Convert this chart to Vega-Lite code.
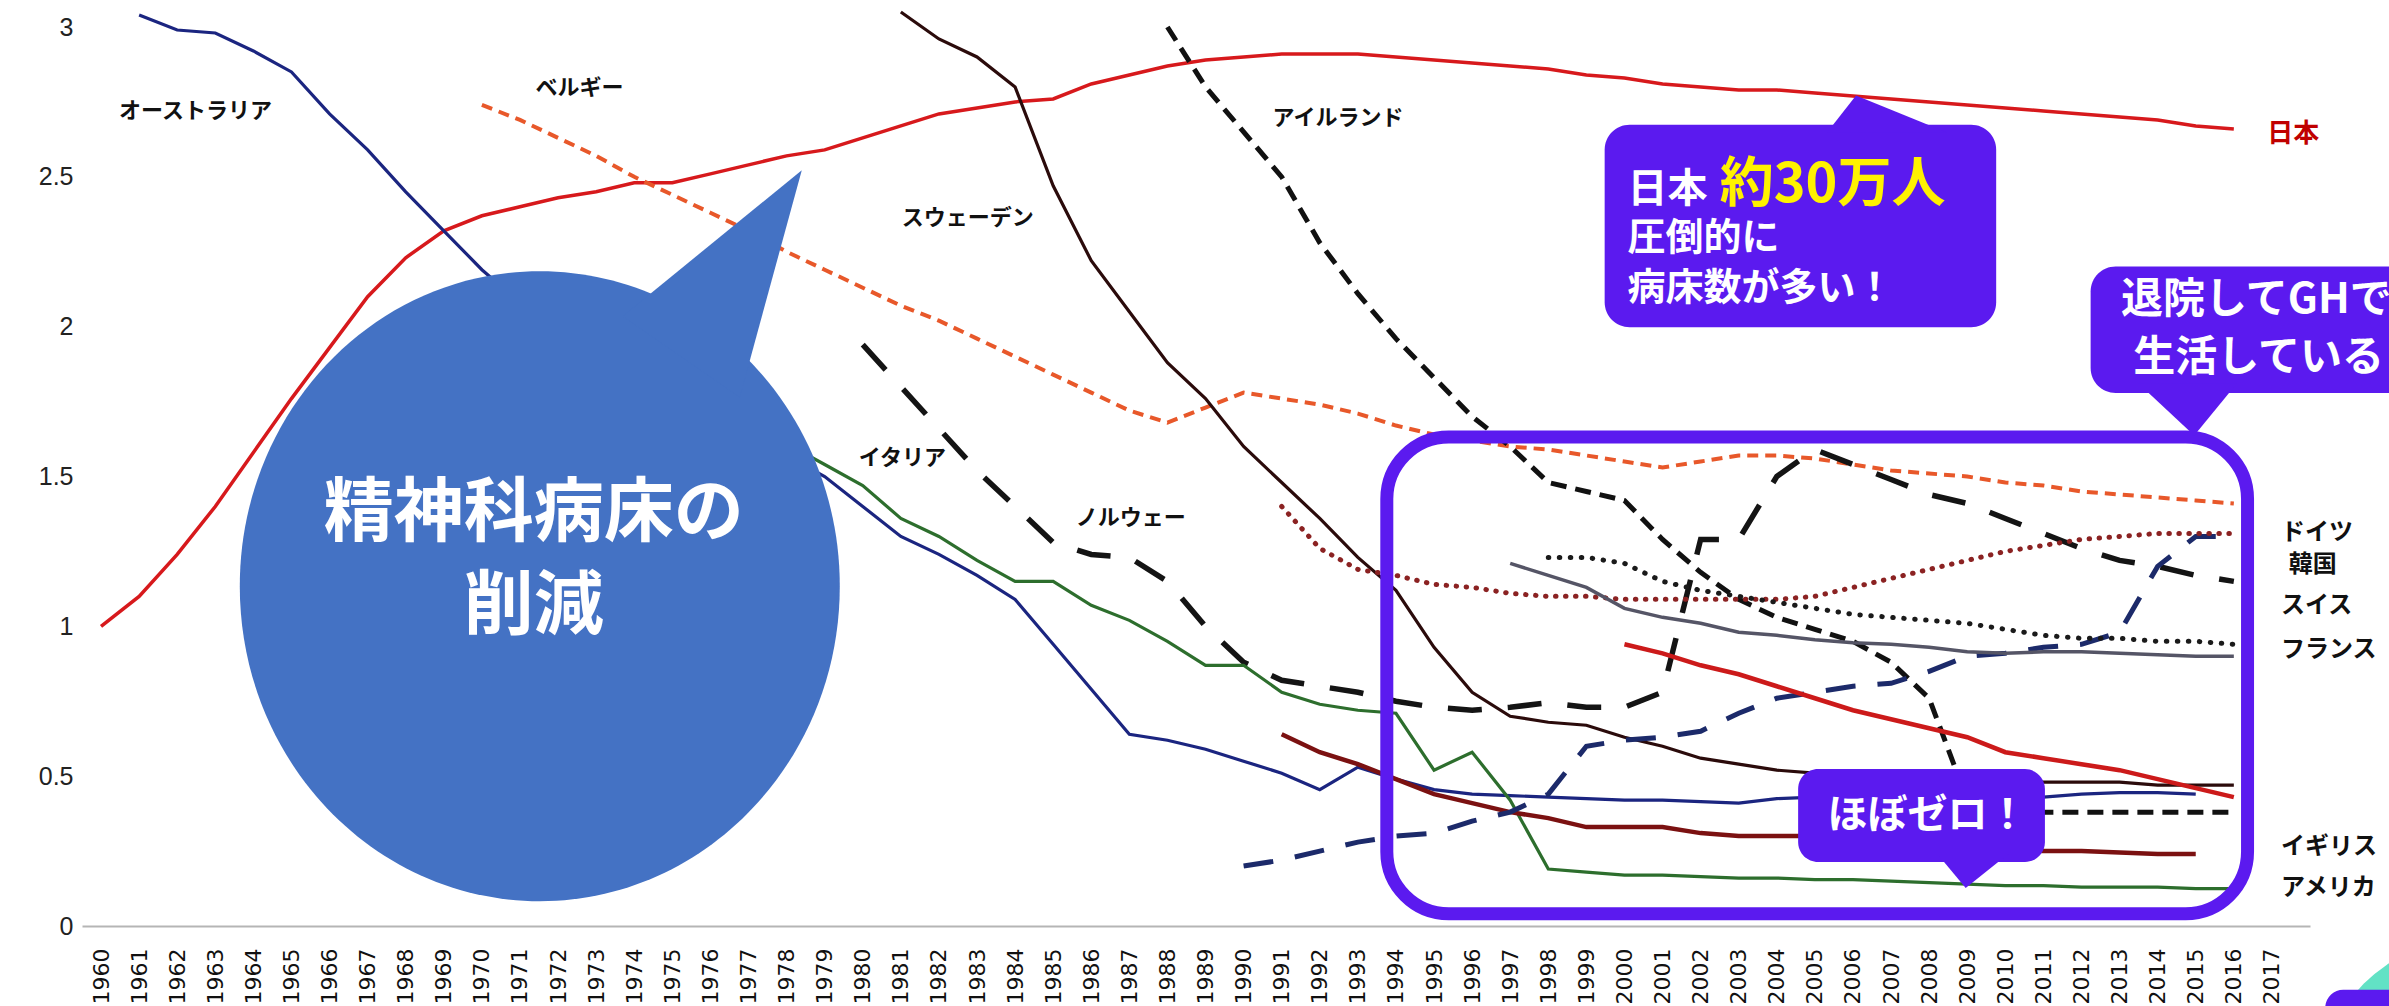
{
"$schema": "https://vega.github.io/schema/vega-lite/v6.json",
"width": 2228, "height": 899,
"autosize": "none",
"padding": {"left": 82, "top": 27, "right": 79, "bottom": 80},
"background": "white",
"config": {"view": {"stroke": null}, "axis": {"grid": false, "ticks": false, "title": null, "labelOverlap": false, "labelBound": false, "labelFlush": false}},
"encoding": {
  "x":{"field":"year","type":"quantitative","scale":{"domain":[1959.5,2018],"nice":false,"zero":false},
   "axis":{"values":[1960,1961,1962,1963,1964,1965,1966,1967,1968,1969,1970,1971,1972,1973,1974,1975,1976,1977,1978,1979,1980,1981,1982,1983,1984,1985,1986,1987,1988,1989,1990,1991,1992,1993,1994,1995,1996,1997,1998,1999,2000,2001,2002,2003,2004,2005,2006,2007,2008,2009,2010,2011,2012,2013,2014,2015,2016,2017],
    "format":"d","labelAngle":270,"labelFont":"DejaVu Sans","labelFontSize":22,"labelColor":"#111","labelPadding":22,"domainColor":"#b5b5b5","domainWidth":2,"labelOverlap":false,"labelBound":false,"labelFlush":false}},
  "y":{"field":"value","type":"quantitative","scale":{"domain":[0,3],"nice":false},
   "axis":{"values":[0,0.5,1,1.5,2,2.5,3],"labelExpr":"datum.value + ''","domain":false,"labelFont":"Liberation Sans","labelFontSize":25,"labelColor":"#222","labelPadding":9,"labelOverlap":false,"labelBound":false,"labelFlush":false}}
},
"datasets": {
"jp": [{"year":1960,"value":1.00},{"year":1961,"value":1.10},{"year":1962,"value":1.24},{"year":1963,"value":1.40},{"year":1964,"value":1.58},{"year":1965,"value":1.76},{"year":1966,"value":1.93},{"year":1967,"value":2.10},{"year":1968,"value":2.23},{"year":1969,"value":2.32},{"year":1970,"value":2.37},{"year":1971,"value":2.40},{"year":1972,"value":2.43},{"year":1973,"value":2.45},{"year":1974,"value":2.48},{"year":1975,"value":2.48},{"year":1976,"value":2.51},{"year":1977,"value":2.54},{"year":1978,"value":2.57},{"year":1979,"value":2.59},{"year":1980,"value":2.63},{"year":1981,"value":2.67},{"year":1982,"value":2.71},{"year":1983,"value":2.73},{"year":1984,"value":2.75},{"year":1985,"value":2.76},{"year":1986,"value":2.81},{"year":1987,"value":2.84},{"year":1988,"value":2.87},{"year":1989,"value":2.89},{"year":1990,"value":2.90},{"year":1991,"value":2.91},{"year":1992,"value":2.91},{"year":1993,"value":2.91},{"year":1994,"value":2.90},{"year":1995,"value":2.89},{"year":1996,"value":2.88},{"year":1997,"value":2.87},{"year":1998,"value":2.86},{"year":1999,"value":2.84},{"year":2000,"value":2.83},{"year":2001,"value":2.81},{"year":2002,"value":2.80},{"year":2003,"value":2.79},{"year":2004,"value":2.79},{"year":2005,"value":2.78},{"year":2006,"value":2.77},{"year":2007,"value":2.76},{"year":2008,"value":2.75},{"year":2009,"value":2.74},{"year":2010,"value":2.73},{"year":2011,"value":2.72},{"year":2012,"value":2.71},{"year":2013,"value":2.70},{"year":2014,"value":2.69},{"year":2015,"value":2.67},{"year":2016,"value":2.66}],
"au": [{"year":1961,"value":3.04},{"year":1962,"value":2.99},{"year":1963,"value":2.98},{"year":1964,"value":2.92},{"year":1965,"value":2.85},{"year":1966,"value":2.71},{"year":1967,"value":2.59},{"year":1968,"value":2.45},{"year":1969,"value":2.32},{"year":1970,"value":2.19},{"year":1971,"value":2.08},{"year":1972,"value":1.98},{"year":1973,"value":1.90},{"year":1974,"value":1.83},{"year":1975,"value":1.76},{"year":1976,"value":1.70},{"year":1977,"value":1.63},{"year":1978,"value":1.57},{"year":1979,"value":1.50},{"year":1980,"value":1.40},{"year":1981,"value":1.30},{"year":1982,"value":1.24},{"year":1983,"value":1.17},{"year":1984,"value":1.09},{"year":1985,"value":0.94},{"year":1986,"value":0.79},{"year":1987,"value":0.64},{"year":1988,"value":0.62},{"year":1989,"value":0.59},{"year":1990,"value":0.55},{"year":1991,"value":0.51},{"year":1992,"value":0.455},{"year":1993,"value":0.53},{"year":1994,"value":0.49},{"year":1995,"value":0.455},{"year":1996,"value":0.44},{"year":1997,"value":0.435},{"year":1998,"value":0.43},{"year":1999,"value":0.425},{"year":2000,"value":0.42},{"year":2001,"value":0.42},{"year":2002,"value":0.415},{"year":2003,"value":0.41},{"year":2004,"value":0.425},{"year":2005,"value":0.43},{"year":2006,"value":0.43},{"year":2007,"value":0.43},{"year":2008,"value":0.43},{"year":2009,"value":0.43},{"year":2010,"value":0.43},{"year":2011,"value":0.43},{"year":2012,"value":0.44},{"year":2013,"value":0.445},{"year":2014,"value":0.445},{"year":2015,"value":0.44}],
"be": [{"year":1970,"value":2.74},{"year":1971,"value":2.69},{"year":1972,"value":2.63},{"year":1973,"value":2.57},{"year":1974,"value":2.50},{"year":1975,"value":2.44},{"year":1976,"value":2.38},{"year":1977,"value":2.32},{"year":1978,"value":2.25},{"year":1979,"value":2.19},{"year":1980,"value":2.13},{"year":1981,"value":2.07},{"year":1982,"value":2.02},{"year":1983,"value":1.96},{"year":1984,"value":1.90},{"year":1985,"value":1.84},{"year":1986,"value":1.78},{"year":1987,"value":1.72},{"year":1988,"value":1.68},{"year":1989,"value":1.73},{"year":1990,"value":1.78},{"year":1991,"value":1.76},{"year":1992,"value":1.74},{"year":1993,"value":1.71},{"year":1994,"value":1.67},{"year":1995,"value":1.64},{"year":1996,"value":1.62},{"year":1997,"value":1.60},{"year":1998,"value":1.59},{"year":1999,"value":1.57},{"year":2000,"value":1.55},{"year":2001,"value":1.53},{"year":2002,"value":1.55},{"year":2003,"value":1.57},{"year":2004,"value":1.57},{"year":2005,"value":1.56},{"year":2006,"value":1.54},{"year":2007,"value":1.52},{"year":2008,"value":1.51},{"year":2009,"value":1.50},{"year":2010,"value":1.48},{"year":2011,"value":1.47},{"year":2012,"value":1.45},{"year":2013,"value":1.44},{"year":2014,"value":1.43},{"year":2015,"value":1.42},{"year":2016,"value":1.41}],
"se": [{"year":1981,"value":3.05},{"year":1982,"value":2.96},{"year":1983,"value":2.90},{"year":1984,"value":2.80},{"year":1985,"value":2.47},{"year":1986,"value":2.22},{"year":1987,"value":2.05},{"year":1988,"value":1.88},{"year":1989,"value":1.76},{"year":1990,"value":1.60},{"year":1991,"value":1.48},{"year":1992,"value":1.36},{"year":1993,"value":1.23},{"year":1994,"value":1.12},{"year":1995,"value":0.93},{"year":1996,"value":0.78},{"year":1997,"value":0.70},{"year":1998,"value":0.68},{"year":1999,"value":0.67},{"year":2000,"value":0.63},{"year":2001,"value":0.60},{"year":2002,"value":0.56},{"year":2003,"value":0.54},{"year":2004,"value":0.52},{"year":2005,"value":0.51},{"year":2006,"value":0.50},{"year":2007,"value":0.50},{"year":2008,"value":0.49},{"year":2009,"value":0.49},{"year":2010,"value":0.48},{"year":2011,"value":0.48},{"year":2012,"value":0.48},{"year":2013,"value":0.48},{"year":2014,"value":0.47},{"year":2015,"value":0.47},{"year":2016,"value":0.47}],
"ie": [{"year":1988,"value":3.00},{"year":1989,"value":2.80},{"year":1990,"value":2.65},{"year":1991,"value":2.50},{"year":1992,"value":2.28},{"year":1993,"value":2.11},{"year":1994,"value":1.96},{"year":1995,"value":1.83},{"year":1996,"value":1.70},{"year":1997,"value":1.60},{"year":1998,"value":1.48},{"year":1999,"value":1.45},{"year":2000,"value":1.42},{"year":2001,"value":1.29},{"year":2002,"value":1.18},{"year":2003,"value":1.09},{"year":2004,"value":1.03},{"year":2005,"value":0.99},{"year":2006,"value":0.95},{"year":2007,"value":0.88},{"year":2008,"value":0.76},{"year":2009,"value":0.42},{"year":2010,"value":0.39},{"year":2011,"value":0.38},{"year":2012,"value":0.38},{"year":2013,"value":0.38},{"year":2014,"value":0.38},{"year":2015,"value":0.38},{"year":2016,"value":0.38}],
"no": [{"year":1980,"value":1.94},{"year":1981,"value":1.80},{"year":1982,"value":1.66},{"year":1983,"value":1.52},{"year":1984,"value":1.40},{"year":1985,"value":1.28},{"year":1986,"value":1.24},{"year":1987,"value":1.23},{"year":1988,"value":1.15},{"year":1989,"value":1.00},{"year":1990,"value":0.88},{"year":1991,"value":0.82},{"year":1992,"value":0.80},{"year":1993,"value":0.78},{"year":1994,"value":0.75},{"year":1995,"value":0.73},{"year":1996,"value":0.72},{"year":1997,"value":0.73},{"year":1998,"value":0.745},{"year":1999,"value":0.73},{"year":2000,"value":0.73},{"year":2001,"value":0.78},{"year":2002,"value":1.29},{"year":2003,"value":1.29},{"year":2004,"value":1.50},{"year":2005,"value":1.59},{"year":2006,"value":1.54},{"year":2007,"value":1.49},{"year":2008,"value":1.44},{"year":2009,"value":1.41},{"year":2010,"value":1.36},{"year":2011,"value":1.31},{"year":2012,"value":1.26},{"year":2013,"value":1.22},{"year":2014,"value":1.20},{"year":2015,"value":1.17},{"year":2016,"value":1.15}],
"it": [{"year":1976,"value":1.75},{"year":1977,"value":1.68},{"year":1978,"value":1.61},{"year":1979,"value":1.54},{"year":1980,"value":1.47},{"year":1981,"value":1.36},{"year":1982,"value":1.30},{"year":1983,"value":1.22},{"year":1984,"value":1.15},{"year":1985,"value":1.15},{"year":1986,"value":1.07},{"year":1987,"value":1.02},{"year":1988,"value":0.95},{"year":1989,"value":0.87},{"year":1990,"value":0.87},{"year":1991,"value":0.78},{"year":1992,"value":0.74},{"year":1993,"value":0.72},{"year":1994,"value":0.71},{"year":1995,"value":0.52},{"year":1996,"value":0.58},{"year":1997,"value":0.42},{"year":1998,"value":0.19},{"year":1999,"value":0.18},{"year":2000,"value":0.17},{"year":2001,"value":0.17},{"year":2002,"value":0.165},{"year":2003,"value":0.16},{"year":2004,"value":0.16},{"year":2005,"value":0.155},{"year":2006,"value":0.155},{"year":2007,"value":0.15},{"year":2008,"value":0.145},{"year":2009,"value":0.14},{"year":2010,"value":0.135},{"year":2011,"value":0.135},{"year":2012,"value":0.13},{"year":2013,"value":0.13},{"year":2014,"value":0.13},{"year":2015,"value":0.125},{"year":2016,"value":0.125}],
"us": [{"year":1991,"value":0.64},{"year":1992,"value":0.58},{"year":1993,"value":0.54},{"year":1994,"value":0.49},{"year":1995,"value":0.44},{"year":1996,"value":0.41},{"year":1997,"value":0.38},{"year":1998,"value":0.36},{"year":1999,"value":0.33},{"year":2000,"value":0.33},{"year":2001,"value":0.33},{"year":2002,"value":0.31},{"year":2003,"value":0.30},{"year":2004,"value":0.30},{"year":2005,"value":0.30},{"year":2006,"value":0.29},{"year":2007,"value":0.28},{"year":2008,"value":0.27},{"year":2009,"value":0.26},{"year":2010,"value":0.255},{"year":2011,"value":0.25},{"year":2012,"value":0.25},{"year":2013,"value":0.245},{"year":2014,"value":0.24},{"year":2015,"value":0.24}],
"kr": [{"year":1990,"value":0.20},{"year":1991,"value":0.22},{"year":1992,"value":0.25},{"year":1993,"value":0.28},{"year":1994,"value":0.30},{"year":1995,"value":0.31},{"year":1996,"value":0.35},{"year":1997,"value":0.38},{"year":1998,"value":0.44},{"year":1999,"value":0.60},{"year":2000,"value":0.62},{"year":2001,"value":0.63},{"year":2002,"value":0.65},{"year":2003,"value":0.71},{"year":2004,"value":0.76},{"year":2005,"value":0.78},{"year":2006,"value":0.80},{"year":2007,"value":0.81},{"year":2008,"value":0.85},{"year":2009,"value":0.90},{"year":2010,"value":0.91},{"year":2011,"value":0.93},{"year":2012,"value":0.94},{"year":2013,"value":0.98},{"year":2014,"value":1.20},{"year":2015,"value":1.30},{"year":2016,"value":1.30}],
"de": [{"year":1991,"value":1.40},{"year":1992,"value":1.26},{"year":1993,"value":1.19},{"year":1994,"value":1.17},{"year":1995,"value":1.14},{"year":1996,"value":1.13},{"year":1997,"value":1.11},{"year":1998,"value":1.10},{"year":1999,"value":1.10},{"year":2000,"value":1.09},{"year":2001,"value":1.09},{"year":2002,"value":1.09},{"year":2003,"value":1.09},{"year":2004,"value":1.09},{"year":2005,"value":1.10},{"year":2006,"value":1.13},{"year":2007,"value":1.16},{"year":2008,"value":1.19},{"year":2009,"value":1.22},{"year":2010,"value":1.25},{"year":2011,"value":1.27},{"year":2012,"value":1.29},{"year":2013,"value":1.30},{"year":2014,"value":1.31},{"year":2015,"value":1.31},{"year":2016,"value":1.31}],
"ch": [{"year":1998,"value":1.23},{"year":1999,"value":1.23},{"year":2000,"value":1.21},{"year":2001,"value":1.15},{"year":2002,"value":1.12},{"year":2003,"value":1.10},{"year":2004,"value":1.08},{"year":2005,"value":1.06},{"year":2006,"value":1.04},{"year":2007,"value":1.03},{"year":2008,"value":1.02},{"year":2009,"value":1.01},{"year":2010,"value":0.99},{"year":2011,"value":0.97},{"year":2012,"value":0.96},{"year":2013,"value":0.96},{"year":2014,"value":0.95},{"year":2015,"value":0.95},{"year":2016,"value":0.94}],
"fr": [{"year":1997,"value":1.21},{"year":1998,"value":1.17},{"year":1999,"value":1.13},{"year":2000,"value":1.06},{"year":2001,"value":1.03},{"year":2002,"value":1.01},{"year":2003,"value":0.98},{"year":2004,"value":0.97},{"year":2005,"value":0.955},{"year":2006,"value":0.945},{"year":2007,"value":0.94},{"year":2008,"value":0.93},{"year":2009,"value":0.915},{"year":2010,"value":0.91},{"year":2011,"value":0.915},{"year":2012,"value":0.915},{"year":2013,"value":0.91},{"year":2014,"value":0.905},{"year":2015,"value":0.90},{"year":2016,"value":0.90}],
"uk": [{"year":2000,"value":0.94},{"year":2001,"value":0.91},{"year":2002,"value":0.87},{"year":2003,"value":0.84},{"year":2004,"value":0.80},{"year":2005,"value":0.76},{"year":2006,"value":0.72},{"year":2007,"value":0.69},{"year":2008,"value":0.66},{"year":2009,"value":0.63},{"year":2010,"value":0.58},{"year":2011,"value":0.56},{"year":2012,"value":0.54},{"year":2013,"value":0.52},{"year":2014,"value":0.49},{"year":2015,"value":0.46},{"year":2016,"value":0.43}],
"labels": [{"t":"オーストラリア","year":1962.48,"value":2.72},{"t":"ベルギー","year":1972.56,"value":2.796},{"t":"アイルランド","year":1992.48,"value":2.695},{"t":"スウェーデン","year":1982.76,"value":2.364},{"t":"イタリア","year":1981.04,"value":1.561},{"t":"ノルウェー","year":1987.04,"value":1.362}],
"rlabels": [{"t":"ドイツ","year":2017.24,"value":1.31},{"t":"韓国","year":2017.44,"value":1.205},{"t":"スイス","year":2017.24,"value":1.068},{"t":"フランス","year":2017.24,"value":0.92},{"t":"イギリス","year":2017.24,"value":0.264},{"t":"アメリカ","year":2017.24,"value":0.127}]
},
"layer": [
{"data":{"name":"jp"},"mark":{"type":"line","color":"#D7191C","strokeWidth":3.5}},
{"data":{"name":"au"},"mark":{"type":"line","color":"#1B2580","strokeWidth":3.2}},
{"data":{"name":"be"},"mark":{"type":"line","color":"#E8582A","strokeWidth":4,"strokeDash":[11,7]}},
{"data":{"name":"se"},"mark":{"type":"line","color":"#2B0B0B","strokeWidth":3.2}},
{"data":{"name":"ie"},"mark":{"type":"line","color":"#111111","strokeWidth":5,"strokeDash":[16,9]}},
{"data":{"name":"no"},"mark":{"type":"line","color":"#141414","strokeWidth":5.5,"strokeDash":[34,26]}},
{"data":{"name":"it"},"mark":{"type":"line","color":"#2D6E2D","strokeWidth":3.2}},
{"data":{"name":"us"},"mark":{"type":"line","color":"#7B1111","strokeWidth":4.5}},
{"data":{"name":"kr"},"mark":{"type":"line","color":"#1C2A6A","strokeWidth":5,"strokeDash":[30,22]}},
{"data":{"name":"de"},"mark":{"type":"line","color":"#8B2222","strokeWidth":5,"strokeDash":[0.5,9.5],"strokeCap":"round"}},
{"data":{"name":"ch"},"mark":{"type":"line","color":"#1A1A1A","strokeWidth":5,"strokeDash":[0.5,10.5],"strokeCap":"round"}},
{"data":{"name":"fr"},"mark":{"type":"line","color":"#555566","strokeWidth":3.5}},
{"data":{"name":"uk"},"mark":{"type":"line","color":"#CC1A1A","strokeWidth":4.5}},
{"data":{"name":"labels"},"mark":{"type":"text","font":"Noto Sans CJK JP","fontWeight":"bold","fontSize":22,"color":"#111","align":"center","baseline":"middle"},"encoding":{"text":{"field":"t"}}},
{"data":{"name":"rlabels"},"mark":{"type":"text","font":"Noto Sans CJK JP","fontWeight":"bold","fontSize":24,"color":"#111","align":"left","baseline":"middle"},"encoding":{"text":{"field":"t"}}},
{"data":{"values":[{"t":"日本","year":2016.88,"value":2.644}]},"mark":{"type":"text","font":"Noto Sans CJK JP","fontWeight":"bold","fontSize":26,"color":"#C00000","align":"left","baseline":"middle"},"encoding":{"text":{"field":"t"}}},
{"data":{"values":[{"year":1993.76,"year2":2016.36,"value":1.632,"value2":0.041}]},"mark":{"type":"rect","filled":false,"stroke":"#5B1AEF","strokeWidth":13,"cornerRadius":62},"encoding":{"x2":{"field":"year2"},"y2":{"field":"value2"}}},
{"data":{"values":[{"year":1971.52,"value":1.134}]},"mark":{"type":"point","shape":"M 3 0 C 3 1.74 1.657 3.15 0 3.15 C -1.657 3.15 -3 1.74 -3 0 C -3 -1.74 -1.657 -3.15 0 -3.15 C 1.657 -3.15 3 -1.74 3 0 Z","size":40000,"filled":true,"fill":"#4472C4","strokeWidth":0,"opacity":1}},
{"data":{"values":[{"year":1971.52,"value":1.134}]},"mark":{"type":"point","shape":"M 2.62 -4.16 L 0.83 -2.7 L 2.0 -1.89 Z","size":40000,"filled":true,"fill":"#4472C4","strokeWidth":0,"opacity":1}},
{"data":{"values":[{"t":"精神科病床の","year":1971.36,"value":1.37},{"t":"削減","year":1971.36,"value":1.06}]},"mark":{"type":"text","font":"Noto Sans CJK JP","fontWeight":"bold","fontSize":70,"color":"white","align":"center","baseline":"middle"},"encoding":{"text":{"field":"t"}}},
{"data":{"values":[{"year":1999.48,"year2":2009.76,"value":2.674,"value2":1.998},{"year":2012.24,"year2":2022.5,"value":2.201,"value2":1.779}]},"mark":{"type":"rect","fill":"#5B1AEF","cornerRadius":25},"encoding":{"x2":{"field":"year2"},"y2":{"field":"value2"}}},
{"data":{"values":[{"year":2006.08,"value":2.771}]},"mark":{"type":"point","shape":"M 0 0 L -0.29 0.37 L 0.91 0.37 Z","size":40000,"filled":true,"fill":"#5B1AEF","strokeWidth":0,"opacity":1}},
{"data":{"values":[{"t":"日本","year":2000.08,"value":2.415}]},"mark":{"type":"text","font":"Noto Sans CJK JP","fontWeight":"bold","fontSize":40,"color":"white","align":"left","baseline":"alphabetic"},"encoding":{"text":{"field":"t"}}},
{"data":{"values":[{"t":"約30万人","year":2002.5,"value":2.415}]},"mark":{"type":"text","font":"Noto Sans CJK JP","fontWeight":"bold","fontSize":54,"color":"#FFF200","align":"left","baseline":"alphabetic"},"encoding":{"text":{"field":"t"}}},
{"data":{"values":[{"t":"圧倒的に","year":2000.08,"value":2.293},{"t":"病床数が多い！","year":2000.08,"value":2.125}]},"mark":{"type":"text","font":"Noto Sans CJK JP","fontWeight":"bold","fontSize":38,"color":"white","align":"left","baseline":"middle"},"encoding":{"text":{"field":"t"}}},
{"data":{"values":[{"year":2014.96,"value":1.637}]},"mark":{"type":"point","shape":"M 0 0 L -0.557 -0.52 L 0.426 -0.52 Z","size":40000,"filled":true,"fill":"#5B1AEF","strokeWidth":0,"opacity":1}},
{"data":{"values":[{"t":"退院してGHで","year":2013.04,"value":2.0895},{"t":"生活している","year":2013.36,"value":1.896}]},"mark":{"type":"text","font":"Noto Sans CJK JP","fontWeight":"bold","fontSize":42,"color":"white","align":"left","baseline":"middle"},"encoding":{"text":{"field":"t"}}},
{"data":{"values":[{"year":2004.56,"year2":2011.04,"value":0.5236,"value2":0.2135}]},"mark":{"type":"rect","fill":"#5B1AEF","cornerRadius":20},"encoding":{"x2":{"field":"year2"},"y2":{"field":"value2"}}},
{"data":{"values":[{"year":2008.96,"value":0.127}]},"mark":{"type":"point","shape":"M 0 0 L -0.3 -0.36 L 0.45 -0.36 Z","size":40000,"filled":true,"fill":"#5B1AEF","strokeWidth":0,"opacity":1}},
{"data":{"values":[{"t":"ほぼゼロ！","year":2007.96,"value":0.366}]},"mark":{"type":"text","font":"Noto Sans CJK JP","fontWeight":"bold","fontSize":40,"color":"white","align":"center","baseline":"middle"},"encoding":{"text":{"field":"t"}}},
{"data":{"values":[{"year":2022.2,"value":-0.546}]},"mark":{"type":"point","shape":"circle","size":90000,"filled":true,"fill":"#62E2C5","strokeWidth":0,"opacity":1}},
{"data":{"values":[{"year":2018.4,"year2":2025,"value":-0.2125,"value2":-0.5}]},"mark":{"type":"rect","fill":"#5B1AEF","cornerRadius":18},"encoding":{"x2":{"field":"year2"},"y2":{"field":"value2"}}}
]
}
